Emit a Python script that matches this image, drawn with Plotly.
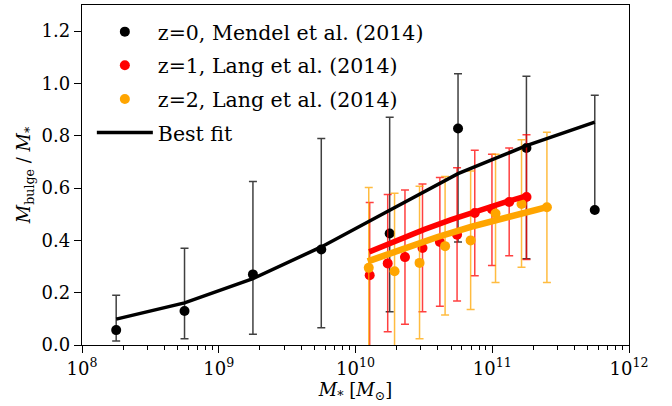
import plotly.graph_objects as go

# ---- data ----
# z=0, Mendel et al. (2014)
m0_mass = [1.778e8, 5.62e8, 1.778e9, 5.62e9, 1.778e10, 5.62e10, 1.778e11, 5.62e11]
m0_frac = [0.057, 0.130, 0.270, 0.365, 0.426, 0.828, 0.753, 0.516]
m0_hi   = [0.190, 0.370, 0.625, 0.790, 0.871, 1.037, 1.028, 0.955]
m0_lo   = [0.015, 0.024, 0.041, 0.066, 0.127, 0.394, 0.330, 0.516]

# z=1, Lang et al. (2014)
l1_mass = [1.27e10, 1.72e10, 2.30e10, 3.09e10, 4.14e10, 5.53e10, 7.45e10, 9.95e10, 1.33e11, 1.78e11]
l1_frac = [0.267, 0.312, 0.336, 0.371, 0.394, 0.422, 0.505, 0.519, 0.547, 0.566]
l1_hi   = [0.545, 0.575, 0.593, 0.616, 0.640, 0.678, 0.745, 0.729, 0.753, 0.804]
l1_lo   = [-0.05, 0.051, 0.079, 0.127, 0.148, 0.168, 0.265, 0.304, 0.341, 0.327]

# z=2, Lang et al. (2014)
l2_mass = [1.25e10, 1.93e10, 2.94e10, 4.52e10, 6.95e10, 1.057e11, 1.637e11, 2.51e11]
l2_frac = [0.295, 0.282, 0.314, 0.378, 0.400, 0.503, 0.539, 0.527]
l2_hi   = [0.602, 0.580, 0.607, 0.644, 0.665, 0.729, 0.785, 0.813]
l2_lo   = [-0.05, -0.05, 0.024, 0.115, 0.136, 0.239, 0.297, 0.239]

# best-fit curves
fit0_mass = [1.778e8, 5.62e8, 1.778e9, 5.62e9, 1.778e10, 5.62e10, 1.778e11, 5.62e11]
fit0_frac = [0.099, 0.161, 0.254, 0.375, 0.515, 0.655, 0.762, 0.852]
fit1_mass = [1.26e10, 2.0e10, 3.16e10, 5.01e10, 7.94e10, 1.26e11, 1.78e11]
fit1_frac = [0.356, 0.400, 0.441, 0.479, 0.515, 0.547, 0.570]
fit2_mass = [1.23e10, 2.24e10, 3.98e10, 7.08e10, 1.26e11, 2.51e11]
fit2_frac = [0.320, 0.369, 0.413, 0.453, 0.489, 0.527]

x_tickvals = [1e8, 1e9, 1e10, 1e11, 1e12]
x_ticktext = ["10<sup>8</sup>", "10<sup>9</sup>", "10<sup>10</sup>", "10<sup>11</sup>", "10<sup>12</sup>"]
y_tickvals = [0.0, 0.2, 0.4, 0.6, 0.8, 1.0, 1.2]

FONT = "DejaVu Serif"

def errs(frac, hi, lo):
    up = [h - f for h, f in zip(hi, frac)]
    dn = [f - l for f, l in zip(frac, lo)]
    return up, dn

fig = go.Figure()

series = [
    ("z=0, Mendel et al. (2014)", m0_mass, m0_frac, m0_hi, m0_lo, "black", "rgba(0,0,0,0.75)", 1),
    ("z=1, Lang et al. (2014)", l1_mass, l1_frac, l1_hi, l1_lo, "red", "rgba(255,0,0,0.75)", 2),
    ("z=2, Lang et al. (2014)", l2_mass, l2_frac, l2_hi, l2_lo, "orange", "rgba(255,165,0,0.75)", 3),
]
for name, xm, yf, hi, lo, col, ecol, rank in series:
    up, dn = errs(yf, hi, lo)
    fig.add_trace(go.Scatter(
        x=xm, y=yf, mode="markers", name=name,
        marker=dict(color=col, size=10),
        error_y=dict(type="data", symmetric=False, array=up, arrayminus=dn,
                     color=ecol, thickness=1.5, width=4),
        legendgroup=name, legendrank=rank,
    ))

fig.add_trace(go.Scatter(x=fit0_mass, y=fit0_frac, mode="lines", name="Best fit",
                         line=dict(color="black", width=3.5), legendgroup="fit", legendrank=4))
fig.add_trace(go.Scatter(x=fit1_mass, y=fit1_frac, mode="lines", showlegend=False,
                         line=dict(color="red", width=5.5)))
fig.add_trace(go.Scatter(x=fit2_mass, y=fit2_frac, mode="lines", showlegend=False,
                         line=dict(color="orange", width=6.5)))

minor_vals = [k * 10 ** e for e in range(8, 12) for k in range(2, 10)]

fig.update_layout(
    width=672, height=406,
    margin=dict(l=82, r=43, t=5, b=61),
    paper_bgcolor="white", plot_bgcolor="white",
    font=dict(family=FONT, size=18, color="black"),
    showlegend=True,
    legend=dict(x=0.018, y=0.98, xanchor="left", yanchor="top",
                bgcolor="rgba(0,0,0,0)", font=dict(family=FONT, size=20.5),
                traceorder="grouped", tracegroupgap=4, itemwidth=56),
    xaxis=dict(
        type="log", range=[8, 12],
        tickmode="array", tickvals=x_tickvals, ticktext=x_ticktext,
        ticks="outside", ticklen=7, tickwidth=1.3, tickcolor="black",
        minor=dict(tickmode="array", tickvals=minor_vals, ticks="outside",
                   ticklen=4, tickwidth=1, tickcolor="black", showgrid=False),
        showline=True, linecolor="black", linewidth=1.3, mirror=True,
        showgrid=False, zeroline=False,
        title=dict(text="<i>M</i><sub>*</sub> [<i>M</i><sub>⊙</sub>]", font=dict(size=18), standoff=4),
    ),
    yaxis=dict(
        range=[0, 1.3],
        tickmode="array", tickvals=y_tickvals, tickformat=".1f",
        ticks="outside", ticklen=7, tickwidth=1.3, tickcolor="black",
        showline=True, linecolor="black", linewidth=1.3, mirror=True,
        showgrid=False, zeroline=False,
        title=dict(text="<i>M</i><sub>bulge</sub> / <i>M</i><sub>*</sub>", font=dict(size=18), standoff=6),
    ),
)

fig.write_html("out.html")
